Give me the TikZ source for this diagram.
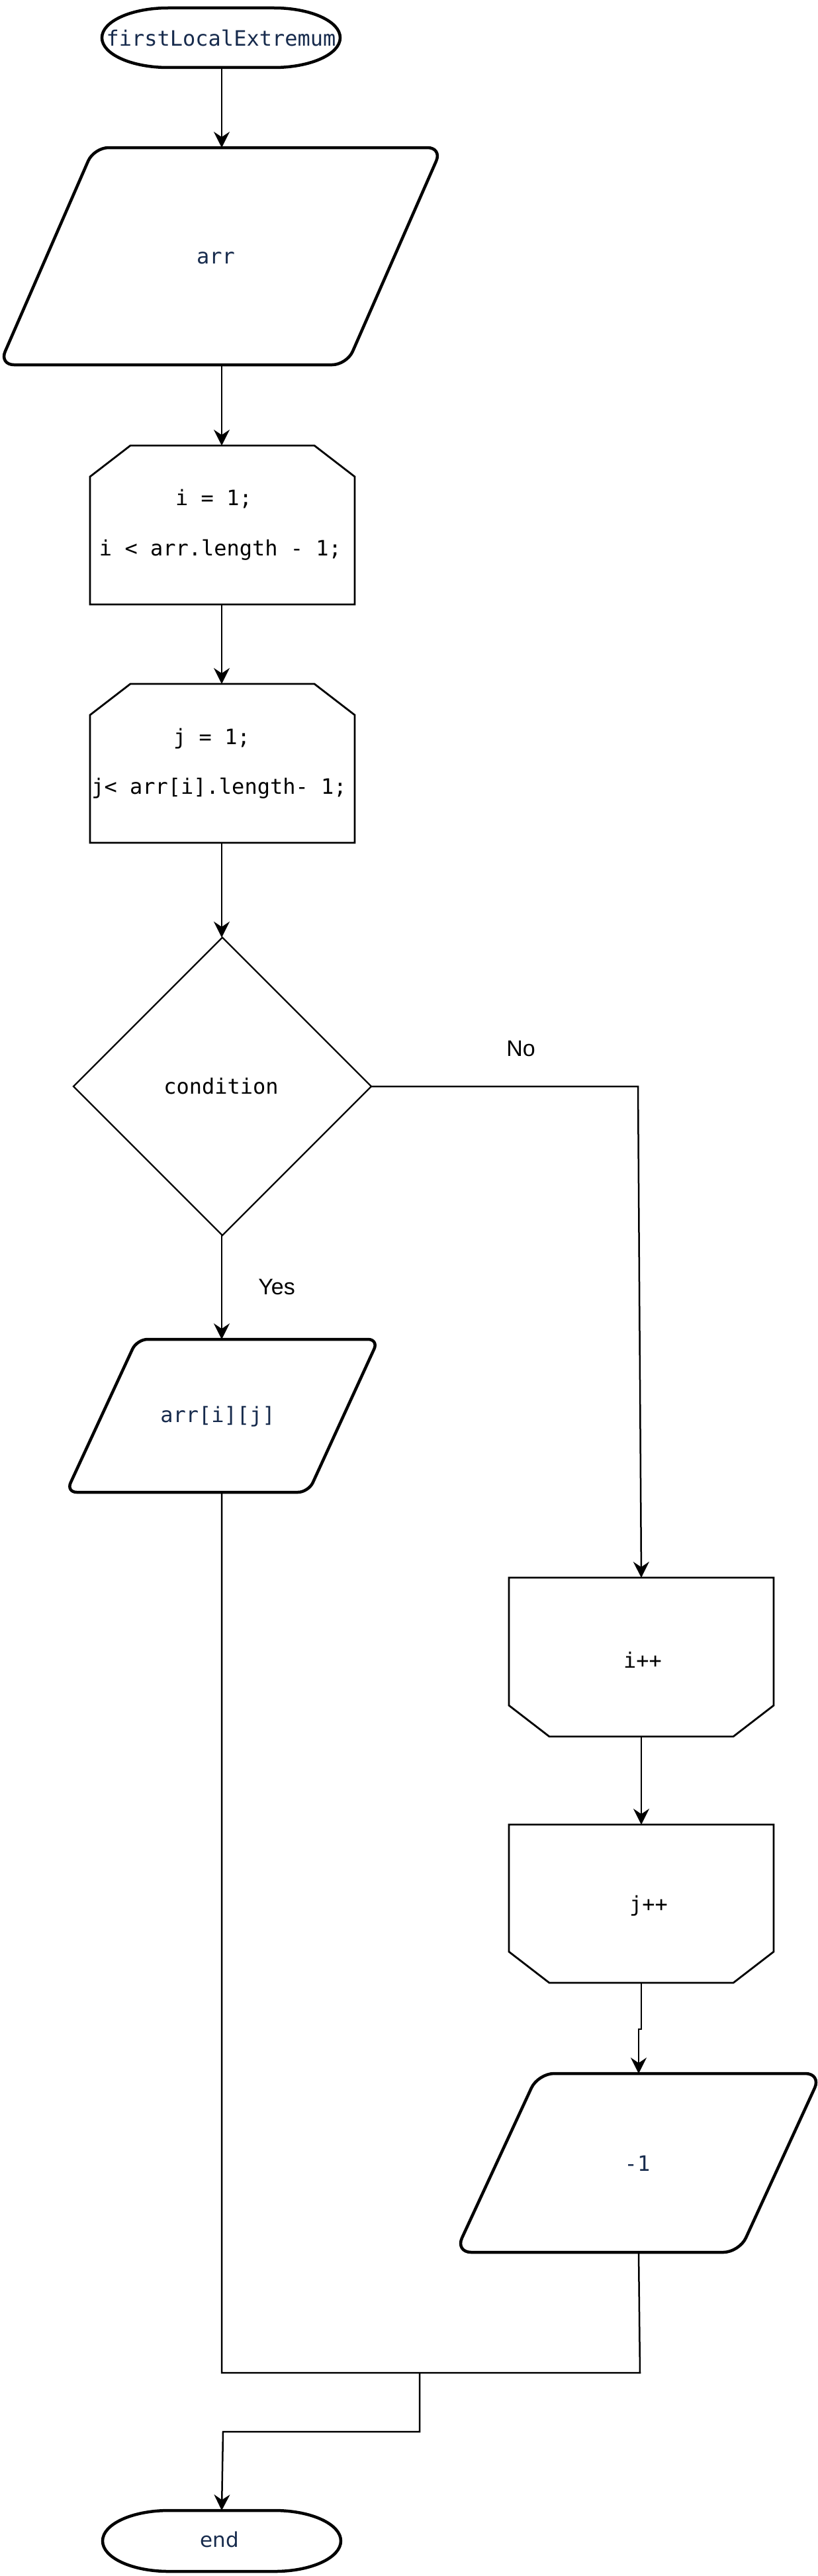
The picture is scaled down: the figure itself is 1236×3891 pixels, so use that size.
\documentclass[tikz,border=0pt]{standalone}
\usepackage{fontspec}
\usetikzlibrary{arrows.meta,calc}
\newfontfamily\codefont{DejaVu Sans Mono}
\newfontfamily\labelfont{Liberation Sans}
\newfontfamily\endfont{DejaVu Sans}
\definecolor{navy}{HTML}{172B4D}
\begin{document}
\begin{tikzpicture}[x=1pt,y=1pt,
  box/.style={draw=none, inner sep=0pt, outer sep=0pt},
  term/.style={line width=4.5pt},
  io/.style={line width=4.5pt, rounded corners=22pt},
  loopbox/.style={line width=2.8pt, line join=miter},
  decision/.style={line width=2.2pt},
  conn/.style={line width=2.5pt},
  flow/.style={conn, -{Stealth[length=24pt,width=24pt,inset=8pt]}},
  code/.style={font=\codefont\fontsize{32}{38}\selectfont, inner sep=0pt},
  navycode/.style={code, text=navy},
  lbl/.style={font=\labelfont\fontsize{34}{40}\selectfont, inner sep=0pt}
]
\fill[white] (0,0) rectangle (1236,-3891);
\useasboundingbox (0,0) rectangle (1236,-3891);

% start terminal
\node[box, minimum width=360pt, minimum height=90pt] (start) at (335,-57) {};
\draw[term] (254,-12) -- (414,-12) arc[start angle=90,end angle=-90,x radius=100,y radius=45]
  -- (254,-102) arc[start angle=270,end angle=90,x radius=100,y radius=45] -- cycle;
\node[navycode] (starttext) at (334,-57) {firstLocalExtremum};

% arr input
\node[box, minimum width=669pt, minimum height=328pt] (arr) at (335,-387) {};
\draw[io] (405,-223) -- (668,-223) -- (524,-551) -- (-1,-551) -- (142,-223) -- cycle;
\node[navycode] (arrtext) at (326,-390) {arr};

% loop i
\node[box, minimum width=400pt, minimum height=240pt] (loopi) at (335,-793) {};
\draw[loopbox] (197,-673) -- (475,-673) -- (536,-720) -- (536,-913) -- (136,-913) -- (136,-720) -- cycle;
\node[code] (loopiA) at (323,-754) {i = 1;};
\node[code] (loopiB) at (333,-831) {i < arr.length - 1;};

% loop j
\node[box, minimum width=400pt, minimum height=240pt] (loopj) at (335,-1153) {};
\draw[loopbox] (197,-1033) -- (475,-1033) -- (536,-1080) -- (536,-1273) -- (136,-1273) -- (136,-1080) -- cycle;
\node[code] (loopjA) at (320,-1116) {j = 1;};
\node[code] (loopjB) at (331,-1191) {j< arr[i].length- 1;};

% decision
\node[box, minimum width=450pt, minimum height=450pt] (cond) at (335,-1641) {};
\draw[decision] (336,-1416) -- (561,-1641) -- (336,-1866) -- (111,-1641) -- cycle;
\node[code] (condtext) at (334,-1641) {condition};

% arr[i][j] output
\node[box, minimum width=472pt, minimum height=231pt] (arrij) at (335,-2138.5) {};
\draw[io, rounded corners=16pt] (390,-2023) -- (572,-2023) -- (466,-2254) -- (100,-2254) -- (207,-2023) -- cycle;
\node[navycode] (arrijtext) at (329,-2140) {arr[i][j]};

% i++
\node[box, minimum width=400pt, minimum height=240pt] (ipp) at (969,-2503) {};
\draw[loopbox] (769,-2383) -- (1169,-2383) -- (1169,-2576) -- (1108,-2623) -- (830,-2623) -- (769,-2576) -- cycle;
\node[code] (ipptext) at (971,-2507) {i++};

% j++
\node[box, minimum width=400pt, minimum height=239pt] (jpp) at (969,-2875.5) {};
\draw[loopbox] (769,-2756) -- (1169,-2756) -- (1169,-2948) -- (1108,-2995) -- (830,-2995) -- (769,-2948) -- cycle;
\node[code] (jpptext) at (980,-2879) {j++};

% -1 output
\node[box, minimum width=553pt, minimum height=270pt] (minus) at (965,-3267) {};
\draw[io, rounded corners=24pt] (1000,-3132) -- (1241,-3132) -- (1117,-3402) -- (688,-3402) -- (813,-3132) -- cycle;
\node[navycode] (minustext) at (963,-3268) {-1};

% end terminal
\node[box, minimum width=360pt, minimum height=92pt] (end) at (335,-3838) {};
\draw[term] (255,-3792) -- (415,-3792) arc[start angle=90,end angle=-90,x radius=100,y radius=46]
  -- (255,-3884) arc[start angle=270,end angle=90,x radius=100,y radius=46] -- cycle;
\node[font=\endfont\fontsize{31}{36}\selectfont, text=navy, inner sep=0pt] (endtext) at (332,-3836) {end};

% labels
\node[lbl] (yes) at (418,-1944) {Yes};
\node[lbl] (no) at (787,-1584) {No};

% connectors
\draw[flow] (start.south) -- (arr.north);
\draw[flow] (arr.south) -- (loopi.north);
\draw[flow] (loopi.south) -- (loopj.north);
\draw[flow] (loopj.south) -- (cond.north);
\draw[flow] (cond.south) -- (arrij.north);
\coordinate (nocorner) at (964,-1641);
\draw[flow] (cond.east) -- (nocorner) -- (ipp.north);
\draw[flow] (ipp.south) -- (jpp.north);
\coordinate (jog1) at (969,-3065);
\coordinate (jog2) at (965,-3065);
\draw[flow] (jpp.south) -- (jog1) -- (jog2) -- (minus.north);
\coordinate (mL) at (335,-3584);
\coordinate (mR) at (967,-3584);
\coordinate (mM) at (634,-3584);
\coordinate (dL) at (634,-3673);
\coordinate (dR) at (337,-3673);
\draw[conn] (arrij.south) -- (mL) -- (mR) -- (minus.south);
\draw[flow] (mM) -- (dL) -- (dR) -- (end.north);
\end{tikzpicture}
\end{document}
